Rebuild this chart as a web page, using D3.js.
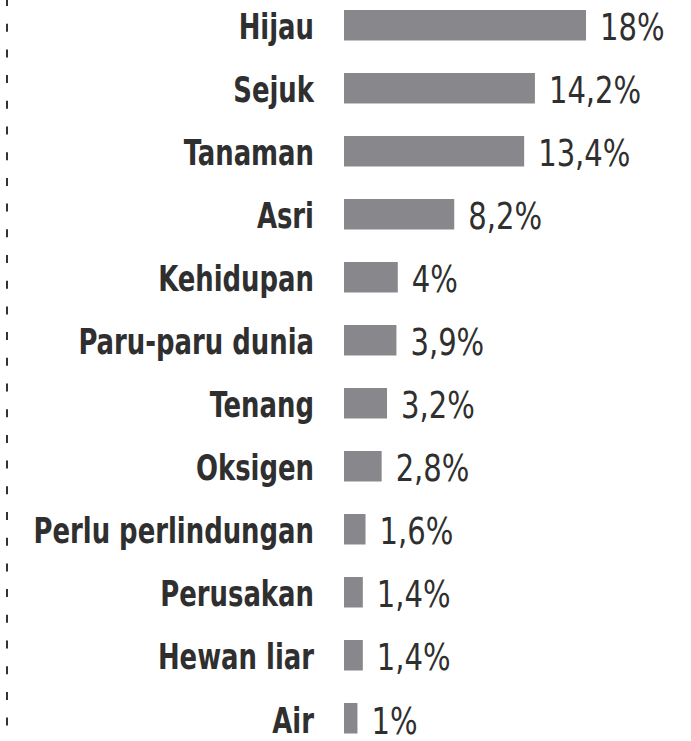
<!DOCTYPE html>
<html lang="id">
<head>
<meta charset="utf-8">
<title>Persepsi hutan</title>
<script src="https://cdn.jsdelivr.net/npm/d3@7"></script>
<style>
  body { margin: 0; background: #fff; }
  svg { display: block; }
  .label { font-family: "DejaVu Sans Condensed", "DejaVu Sans", sans-serif; font-weight: bold; font-size: 36px; fill: #2f2f2f; }
  .nilai { font-family: "DejaVu Sans Condensed", "DejaVu Sans", sans-serif; font-size: 38px; fill: #2f2f2f; }
</style>
</head>
<body>
<svg width="691" height="741"></svg>
<script>
var kategori = ["Hijau", "Sejuk", "Tanaman", "Asri", "Kehidupan", "Paru-paru dunia", "Tenang", "Oksigen", "Perlu perlindungan", "Perusakan", "Hewan liar", "Air"];
var persen = [18, 14.2, 13.4, 8.2, 4, 3.9, 3.2, 2.8, 1.6, 1.4, 1.4, 1];
var labelPersen = ["18%", "14,2%", "13,4%", "8,2%", "4%", "3,9%", "3,2%", "2,8%", "1,6%", "1,4%", "1,4%", "1%"];

var data = kategori.map(function (k, i) {
  return { nama: k, nilai: persen[i], teks: labelPersen[i] };
});

var svg = d3.select("svg");

// garis putus-putus di kiri
svg.append("line")
  .attr("x1", 7).attr("x2", 7)
  .attr("y1", 0).attr("y2", 741)
  .attr("stroke", "#333")
  .attr("stroke-width", 2)
  .attr("stroke-dasharray", "8 17.7")
  .attr("stroke-dashoffset", 2);

var y = d3.scaleBand()
  .domain(kategori)
  .range([10, 733.5])
  .paddingInner(0.516)
  .paddingOuter(0);

var x = d3.scaleLinear()
  .domain([0, 18])
  .range([344, 586]);

// batang
svg.selectAll("rect.batang")
  .data(data)
  .enter()
  .append("rect")
    .attr("class", "batang")
    .attr("x", x(0))
    .attr("y", function (d) { return y(d.nama); })
    .attr("width", function (d) { return x(d.nilai) - x(0); })
    .attr("height", y.bandwidth())
    .attr("fill", "#88888c");

// nama kategori (huruf dipadatkan agar mirip font asli)
svg.selectAll("text.label")
  .data(data)
  .enter()
  .append("text")
    .attr("class", "label")
    .attr("text-anchor", "end")
    .attr("transform", function (d) {
      return "translate(314," + (y(d.nama) + y.bandwidth() - 1) + ") scale(0.8,1)";
    })
    .text(function (d) { return d.nama; });

// nilai persen
svg.selectAll("text.nilai")
  .data(data)
  .enter()
  .append("text")
    .attr("class", "nilai")
    .attr("transform", function (d) {
      return "translate(" + (x(d.nilai) + 14) + "," + (y(d.nama) + y.bandwidth()) + ") scale(0.85,1)";
    })
    .text(function (d) { return d.teks; });
</script>
</body>
</html>
